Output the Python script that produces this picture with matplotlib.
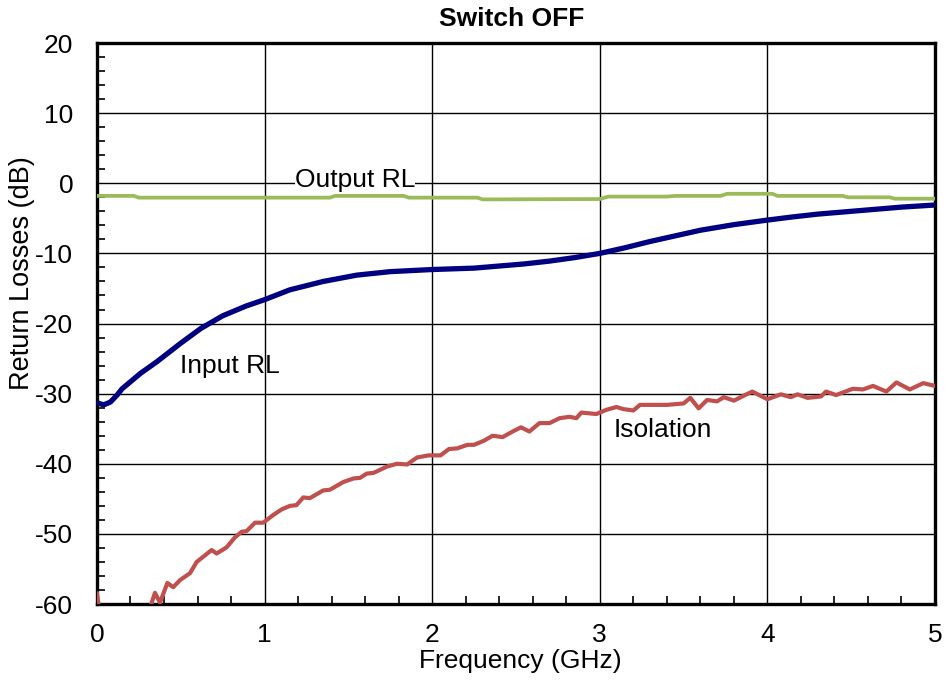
import matplotlib
matplotlib.use('Agg')
import matplotlib.pyplot as plt
from matplotlib.ticker import MultipleLocator

plt.rcParams['font.family'] = ['Liberation Sans', 'DejaVu Sans']
plt.rcParams['axes.unicode_minus'] = False

# Input RL
freq_in = [0, 0.04, 0.08, 0.12, 0.15, 0.19, 0.26, 0.36, 0.5, 0.62, 0.75, 0.89, 1.0,
           1.15, 1.35, 1.55, 1.75, 2.0, 2.25, 2.4, 2.55, 2.7, 2.85, 3.0, 3.15, 3.3,
           3.45, 3.6, 3.8, 4.0, 4.15, 4.3, 4.45, 4.6, 4.8, 5.0]
input_rl = [-31.3, -31.6, -31.2, -30.2, -29.3, -28.5, -27.1, -25.4, -22.8, -20.7, -18.9,
            -17.5, -16.6, -15.2, -14.0, -13.1, -12.6, -12.3, -12.1, -11.8, -11.5, -11.1,
            -10.6, -10.0, -9.2, -8.3, -7.5, -6.7, -5.9, -5.25, -4.8, -4.4, -4.1, -3.8,
            -3.4, -3.1]

# Output RL
freq_out = [0, 0.22, 0.25, 1.39, 1.42, 1.83, 1.86, 2.27, 2.30, 3.0, 3.05, 3.40, 3.45,
            3.72, 3.76, 4.03, 4.06, 4.45, 4.48, 4.73, 4.76, 5.0]
output_rl = [-1.8, -1.8, -2.05, -2.05, -1.8, -1.8, -2.05, -2.05, -2.3, -2.25, -1.9, -1.9,
             -1.8, -1.8, -1.5, -1.5, -1.8, -1.8, -2.0, -2.0, -2.2, -2.2]

# Isolation
freq_iso = [0.0, 0.015, 0.31, 0.346, 0.376, 0.42, 0.455, 0.495, 0.555, 0.595, 0.684, 0.714,
            0.774, 0.823, 0.863, 0.893, 0.943, 0.992, 1.052, 1.102, 1.152, 1.19, 1.231,
            1.27, 1.35, 1.39, 1.47, 1.53, 1.57, 1.61, 1.65, 1.73, 1.79, 1.85, 1.91, 1.98,
            2.05, 2.10, 2.15, 2.21, 2.25, 2.31, 2.36, 2.42, 2.48, 2.53, 2.58, 2.64, 2.70,
            2.76, 2.82, 2.86, 2.89, 2.98, 3.04, 3.10, 3.14, 3.20, 3.24, 3.30, 3.40, 3.50,
            3.54, 3.59, 3.64, 3.70, 3.74, 3.80, 3.85, 3.91, 4.00, 4.08, 4.14, 4.18, 4.24,
            4.32, 4.35, 4.41, 4.51, 4.57, 4.63, 4.71, 4.77, 4.85, 4.93, 5.0]
isolation = [-58.5, -61, -61, -58.4, -59.8, -57.0, -57.6, -56.6, -55.6, -54.0, -52.3, -52.8,
             -51.9, -50.5, -49.7, -49.6, -48.4, -48.4, -47.3, -46.5, -46.0, -45.9, -44.8,
             -44.9, -43.8, -43.7, -42.6, -42.1, -42.0, -41.4, -41.3, -40.4, -40.0, -40.1,
             -39.1, -38.8, -38.8, -37.9, -37.8, -37.3, -37.3, -36.7, -36.0, -36.2, -35.4,
             -34.8, -35.4, -34.2, -34.2, -33.5, -33.3, -33.5, -32.7, -32.9, -32.3, -31.9,
             -32.2, -32.4, -31.6, -31.6, -31.6, -31.4, -30.6, -32.1, -30.9, -31.1, -30.5,
             -31.0, -30.4, -29.7, -30.8, -30.1, -30.5, -30.1, -30.6, -30.4, -29.7, -30.2,
             -29.3, -29.4, -28.9, -29.7, -28.4, -29.4, -28.5, -28.9]

fig = plt.figure(figsize=(9.47, 6.85), dpi=100)
ax = fig.add_axes([0.1024, 0.1182, 0.8849, 0.819])

ax.plot(freq_out, output_rl, color='#9BBB59', lw=2.7, zorder=3)
ax.plot(freq_iso, isolation, color='#C0504D', lw=3.0, zorder=3)
ax.plot(freq_in, input_rl, color='#000080', lw=3.8, zorder=4)

ax.set_xlim(0, 5)
ax.set_ylim(-60, 20)
ax.xaxis.set_major_locator(MultipleLocator(1))
ax.xaxis.set_minor_locator(MultipleLocator(0.2))
ax.yaxis.set_major_locator(MultipleLocator(10))
ax.yaxis.set_minor_locator(MultipleLocator(2))
ax.grid(True, which='major', color='black', lw=1.0)
ax.set_axisbelow(True)
ax.tick_params(which='major', length=0, labelsize=19)
ax.tick_params(axis='x', which='major', pad=14)
ax.tick_params(axis='y', which='major', pad=17)
ax.tick_params(which='minor', direction='in', length=6, width=1.2)
for s in ax.spines.values():
    s.set_linewidth(2.4)

ax.text(1.18, -0.54, 'Output RL', fontsize=19, ha='left', va='baseline',
        bbox=dict(facecolor='white', edgecolor='none', pad=0), zorder=5)
ax.text(0.495, -27.1, 'Input RL', fontsize=19, ha='left', va='baseline', zorder=5)
ax.text(3.08, -36.2, 'Isolation', fontsize=19, ha='left', va='baseline', zorder=5)

fig.text(512 / 947, 1 - 19 / 685, 'Switch OFF', fontsize=19, fontweight='bold',
         ha='center', va='center')
fig.text(520 / 947, 1 - 661 / 685, 'Frequency (GHz)', fontsize=19, ha='center', va='center')
fig.text(22 / 947, 1 - 273 / 685, 'Return Losses (dB)', fontsize=19.5, rotation=90,
         ha='center', va='center')

fig.savefig('out.png', dpi=100)
